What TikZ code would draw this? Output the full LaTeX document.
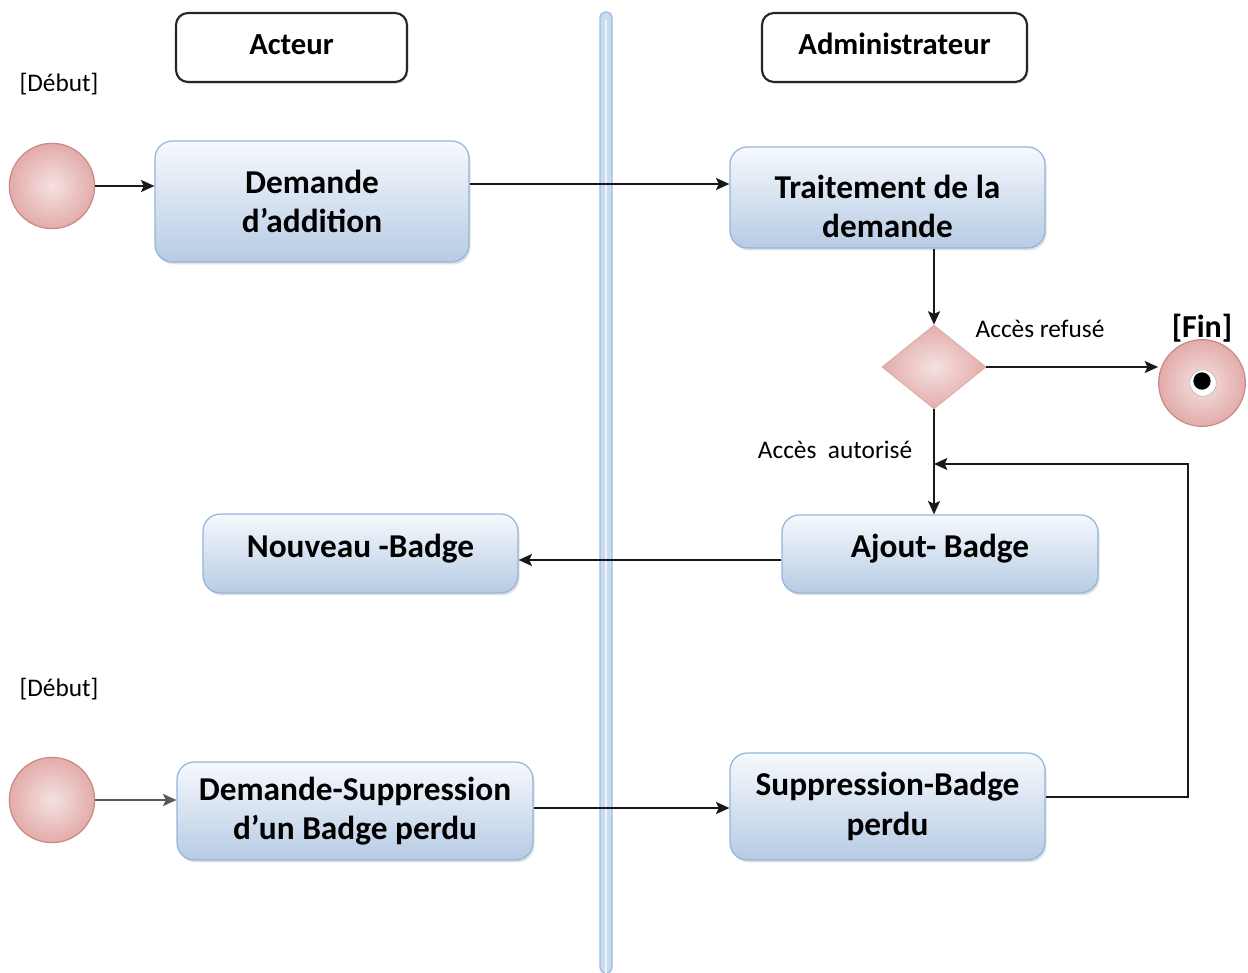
\documentclass[tikz,border=0pt]{standalone}
\usepackage{fontspec}
\setmainfont{Carlito}
\usetikzlibrary{arrows.meta,shapes.geometric,shadows}

\definecolor{boxtop}{HTML}{F6F9FD}
\definecolor{boxbot}{HTML}{B7CBE4}
\definecolor{boxedge}{HTML}{93B3DA}
\definecolor{pinkin}{HTML}{F5E1E1}
\definecolor{pinkout}{HTML}{E2ACAA}
\definecolor{pinkedge}{HTML}{C98987}
\definecolor{lanefill}{HTML}{C9DBF1}
\definecolor{laneedge}{HTML}{9DBBE2}

\tikzset{
  px/.style={x=0.75pt,y=-0.75pt},
  activity/.style={draw=boxedge, line width=0.9pt, rounded corners=13pt,
    top color=boxtop, bottom color=boxbot, align=center, inner sep=0pt,
    font=\bfseries\fontsize{25}{29.5}\selectfont,
    drop shadow={shadow xshift=1.2pt, shadow yshift=-1.8pt, opacity=0.22}},
  lanehead/.style={draw=black!85, line width=1.6pt, rounded corners=9pt, fill=white,
    inner sep=0pt, font=\bfseries\fontsize{23}{27}\selectfont,
    drop shadow={shadow xshift=1pt, shadow yshift=-1.2pt, opacity=0.25}},
  initial/.style={circle, draw=pinkedge, line width=0.9pt, inner color=pinkin,
    outer color=pinkout, minimum size=64pt, inner sep=0pt},
  decision/.style={diamond, draw=pinkout!90!pinkedge, line width=0.6pt,
    inner color=pinkin, outer color=pinkout, inner sep=0pt},
  startlbl/.style={font=\fontsize{19}{22}\selectfont, inner sep=0pt},
  guard/.style={font=\fontsize{19}{22}\selectfont, inner sep=0pt},
  flow/.style={line width=1.5pt, draw=black!90,
    -{Stealth[length=10pt,width=9pt,inset=2pt]}}
}

\begin{document}
\begin{tikzpicture}[px]
\useasboundingbox (0,0) rectangle (1248,973);

% swimlane separator
\draw[fill=lanefill, draw=laneedge, line width=1pt, rounded corners=4pt]
  (600,12) rectangle (612,973);
\draw[white!70!lanefill, line width=2pt] (606,20) -- (606,973);

% lane headers
\node[lanehead, minimum width=231*0.75pt, minimum height=69*0.75pt]
  (acteur) at (291.5,47.5) {Acteur\rule[-5pt]{0pt}{0pt}};
\node[lanehead, minimum width=265*0.75pt, minimum height=69*0.75pt]
  (admin) at (894.5,47.5) {Administrateur\rule[-5pt]{0pt}{0pt}};

% start markers and labels
\node[startlbl] (debut1) at (59,84) {[Début]};
\node[initial] (start1) at (52,186) {};
\node[startlbl] (debut2) at (59,689) {[Début]};
\node[initial] (start2) at (52,800) {};

% activities
\node[activity, minimum width=314*0.75pt, minimum height=121*0.75pt]
  (dem) at (312,201.5) {Demande\\d’addition};
\node[activity, minimum width=315*0.75pt, minimum height=101*0.75pt]
  (trait) at (887.5,197.5) {\rule{0pt}{31pt}Traitement de la\\demande};
\node[activity, minimum width=316*0.75pt, minimum height=78*0.75pt]
  (ajout) at (940,554) {Ajout- Badge\rule[-12pt]{0pt}{0pt}};
\node[activity, minimum width=315*0.75pt, minimum height=79*0.75pt]
  (nouv) at (360.5,553.5) {Nouveau -Badge\rule[-12pt]{0pt}{0pt}};
\node[activity, minimum width=356*0.75pt, minimum height=98*0.75pt]
  (dsup) at (355,811) {Demande-Suppression\\d’un Badge perdu};
\node[activity, minimum width=315*0.75pt, minimum height=107*0.75pt]
  (sup) at (887.5,806.5) {Suppression-Badge\\perdu};

% decision and final node
\node[decision, minimum width=104*0.75pt, minimum height=84*0.75pt] (dec) at (934,367) {};
\node[initial, minimum size=65pt] (fin) at (1202,383) {};
\node[circle, fill=white, draw=black!25, line width=0.6pt, minimum size=20pt, inner sep=0pt]
  (finring) at (1203,383) {};
\node[circle, fill=black, minimum size=13pt, inner sep=0pt] (findot) at (1202,381) {};
\node[font=\bfseries\fontsize{24}{28}\selectfont, inner sep=0pt] (finlbl) at (1202,328) {[Fin]};

% guard labels
\node[guard] (refuse) at (1040,329) {Accès refusé};
\node[guard] (autor) at (835,450) {Accès\ \ autorisé};

% routing points
\coordinate (r1) at (0,184);
\coordinate (r3) at (0,560);
\coordinate (r4) at (0,808);
\coordinate (loopA) at (1188,797);
\coordinate (loopB) at (1188,464);
\coordinate (join) at (934,464);

% flows
\draw[flow] (start1.east) -- (dem.west |- start1.east);
\draw[flow] (dem.east |- r1) -- (trait.west |- r1);
\draw[flow] (trait.south -| dec.north) -- (dec.north);
\draw[flow] (dec.east) -- (fin.west |- dec.east);
\draw[flow] (dec.south) -- (ajout.north -| dec.south);
\draw[flow] (ajout.west |- r3) -- (nouv.east |- r3);
\draw[flow, draw=black!65] (start2.east) -- (dsup.west |- start2.east);
\draw[flow] (dsup.east |- r4) -- (sup.west |- r4);
\draw[flow] (sup.east |- loopA) -- (loopA) -- (loopB) -- (join);
\end{tikzpicture}
\end{document}
